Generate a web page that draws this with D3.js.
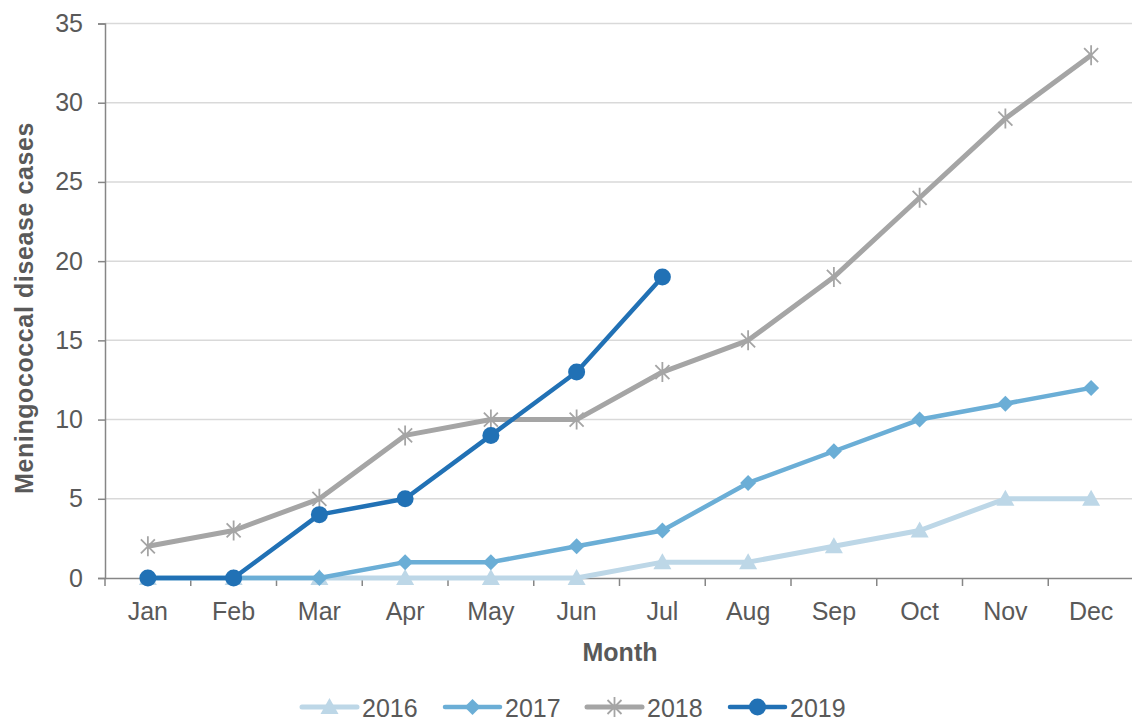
<!DOCTYPE html>
<html lang="en">
<head>
<meta charset="UTF-8">
<title>Meningococcal disease cases</title>
<script src="https://d3js.org/d3.v7.min.js"></script>
<style>
  body { margin: 0; background: #fff; font-family: "Liberation Sans", Arial, sans-serif; }
  svg { display: block; }
</style>
</head>
<body>
<svg width="1132" height="722"></svg>
<script>
// chart data
const months = ["Jan","Feb","Mar","Apr","May","Jun","Jul","Aug","Sep","Oct","Nov","Dec"];
const years = ["2016","2017","2018","2019"];
const cases2016 = [0,0,0,0,0,0,1,1,2,3,5,5];
const cases2017 = [0,0,0,1,1,2,3,6,8,10,11,12];
const cases2018 = [2,3,5,9,10,10,13,15,19,24,29,33];
const cases2019 = [0,0,4,5,9,13,19];
const yTicks = [0,5,10,15,20,25,30,35];

const series = [
  { name: years[0], values: cases2016, color: "#bdd7e7", width: 5, marker: "triangle" },
  { name: years[1], values: cases2017, color: "#6baed6", width: 4.5, marker: "diamond" },
  { name: years[2], values: cases2018, color: "#a5a5a5", width: 5, marker: "cross" },
  { name: years[3], values: cases2019, color: "#2171b5", width: 4.5, marker: "circle" }
];

const svg = d3.select("svg");
const textColor = "#595959";
const fontSize = "25px";

const x = d3.scaleBand().domain(months).range([105, 1134]);
const y = d3.scaleLinear().domain([0, 35]).range([578, 23.5]);
const cx = m => x(m) + x.bandwidth() / 2;

// gridlines
svg.append("g")
  .selectAll("line")
  .data(yTicks.filter(d => d > 0))
  .join("line")
  .attr("x1", 105).attr("x2", 1134)
  .attr("y1", d => y(d)).attr("y2", d => y(d))
  .attr("stroke", "#d9d9d9").attr("stroke-width", 1.5);

// y axis
const yAxis = svg.append("g")
  .attr("transform", "translate(105,0)")
  .call(d3.axisLeft(y).tickValues(yTicks).tickSize(7).tickPadding(15));
yAxis.select(".domain").attr("stroke", "#868686").attr("stroke-width", 1.5);
yAxis.selectAll(".tick line").attr("stroke", "#868686").attr("stroke-width", 1.5);
yAxis.selectAll("text").attr("fill", textColor)
  .style("font-size", fontSize).style("font-family", "Liberation Sans, Arial, sans-serif");

// x axis
const xAxis = svg.append("g")
  .attr("transform", "translate(0,578)")
  .call(d3.axisBottom(x).tickSize(0).tickPadding(24));
xAxis.select(".domain").attr("stroke", "#868686").attr("stroke-width", 1.5);
xAxis.selectAll("text").attr("fill", textColor)
  .style("font-size", fontSize).style("font-family", "Liberation Sans, Arial, sans-serif");
// tick marks on category boundaries
xAxis.append("g")
  .selectAll("line")
  .data(months)
  .join("line")
  .attr("x1", d => x(d)).attr("x2", d => x(d))
  .attr("y1", 0).attr("y2", 8)
  .attr("stroke", "#868686").attr("stroke-width", 1.5);

// axis titles
svg.append("text")
  .attr("x", 620).attr("y", 661)
  .attr("text-anchor", "middle")
  .attr("fill", textColor)
  .style("font-size", fontSize).style("font-weight", "bold")
  .text("Month");

svg.append("text")
  .attr("transform", "translate(33,308) rotate(-90)")
  .attr("text-anchor", "middle")
  .attr("fill", textColor)
  .style("font-size", fontSize).style("font-weight", "bold")
  .style("letter-spacing", "0.6px")
  .text("Meningococcal disease cases");

// marker drawing
function drawMarker(g, type, color, px, py) {
  if (type === "triangle") {
    g.append("path")
      .attr("d", `M${px},${py - 9}L${px + 9},${py + 7}L${px - 9},${py + 7}Z`)
      .attr("fill", color);
  } else if (type === "diamond") {
    g.append("path")
      .attr("d", `M${px},${py - 8}L${px + 8},${py}L${px},${py + 8}L${px - 8},${py}Z`)
      .attr("fill", color);
  } else if (type === "cross") {
    const r = 10;
    g.append("path")
      .attr("d", `M${px - r * 0.7},${py - r * 0.7}L${px + r * 0.7},${py + r * 0.7}M${px - r * 0.7},${py + r * 0.7}L${px + r * 0.7},${py - r * 0.7}M${px},${py - r}L${px},${py + r}`)
      .attr("stroke", color).attr("stroke-width", 1.8).attr("fill", "none");
  } else {
    g.append("circle").attr("cx", px).attr("cy", py).attr("r", 8.5).attr("fill", color);
  }
}

const line = d3.line()
  .x((d, i) => cx(months[i]))
  .y(d => y(d));

series.forEach(s => {
  const g = svg.append("g");
  g.append("path")
    .datum(s.values)
    .attr("d", line)
    .attr("fill", "none")
    .attr("stroke", s.color)
    .attr("stroke-width", s.width)
    .attr("stroke-linejoin", "round");
  s.values.forEach((v, i) => drawMarker(g, s.marker, s.color, cx(months[i]), y(v)));
});

// legend
const legendX = [302, 445, 587, 730];
series.forEach((s, i) => {
  const g = svg.append("g");
  const lx = legendX[i];
  g.append("line")
    .attr("x1", lx).attr("x2", lx + 55)
    .attr("y1", 707).attr("y2", 707)
    .attr("stroke", s.color).attr("stroke-width", s.width)
    .attr("stroke-linecap", "round");
  drawMarker(g, s.marker, s.color, lx + 27.5, 707);
  g.append("text")
    .attr("x", lx + 60).attr("y", 717)
    .attr("fill", textColor)
    .style("font-size", fontSize)
    .text(s.name);
});
</script>
</body>
</html>
